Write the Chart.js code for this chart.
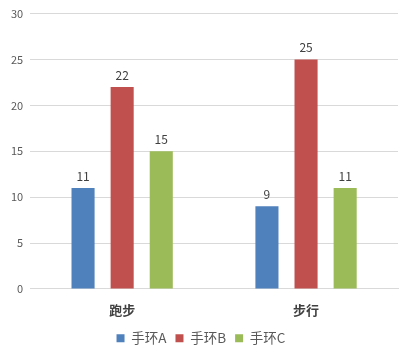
<!DOCTYPE html>
<html><head><meta charset="utf-8">
<script src="https://cdn.jsdelivr.net/npm/chart.js@4"></script>
<style>html,body{margin:0;padding:0;background:#fff;}#wrap{width:409px;height:358px;}</style>
</head><body><div id="wrap"><canvas id="c" width="409" height="358"></canvas></div>
<script>
const categories = ['跑步', '步行'];
const seriesNames = ['手环A', '手环B', '手环C'];
const bandA = [11, 9];
const bandB = [22, 25];
const bandC = [15, 11];
const yTicks = [0, 5, 10, 15, 20, 25, 30];
const colors = ['#4F81BD', '#C0504D', '#9BBB59'];
const FONT = "'Noto Sans CJK SC', 'Noto Sans', sans-serif";

const labelPlugin = {
  id: 'barLabels',
  afterDatasetsDraw(chart) {
    const ctx = chart.ctx;
    ctx.save();
    ctx.font = "12px " + FONT;
    ctx.fillStyle = '#404040';
    ctx.textAlign = 'center';
    ctx.textBaseline = 'bottom';
    chart.data.datasets.forEach((ds, i) => {
      chart.getDatasetMeta(i).data.forEach((bar, j) => {
        ctx.fillText(String(ds.data[j]), bar.x, bar.y - 6);
      });
    });
    ctx.restore();
  }
};

new Chart(document.getElementById('c'), {
  type: 'bar',
  data: {
    labels: categories,
    datasets: [bandA, bandB, bandC].map((d, i) => ({
      label: seriesNames[i], data: d, backgroundColor: colors[i],
      categoryPercentage: 0.638, barPercentage: 0.59
    }))
  },
  options: {
    responsive: false, animation: false,
    layout: { padding: { top: 4, right: 11, left: 4, bottom: 3 } },
    plugins: {
      legend: {
        position: 'bottom',
        labels: { boxWidth: 8, boxHeight: 8, padding: 9, color: '#595959', font: { family: FONT, size: 13.5 } }
      },
      tooltip: { enabled: false }
    },
    scales: {
      x: {
        grid: { display: false },
        border: { color: '#D9D9D9' },
        ticks: { color: '#404040', font: { family: FONT, size: 13, weight: 'bold' }, padding: 5 }
      },
      y: {
        min: 0, max: 30,
        afterBuildTicks(axis) { axis.ticks = yTicks.map(v => ({ value: v })); },
        grid: { color: '#D9D9D9', drawTicks: false },
        border: { display: false },
        ticks: { color: '#595959', font: { family: FONT, size: 11 }, padding: 7 }
      }
    }
  },
  plugins: [labelPlugin]
});
</script></body></html>
